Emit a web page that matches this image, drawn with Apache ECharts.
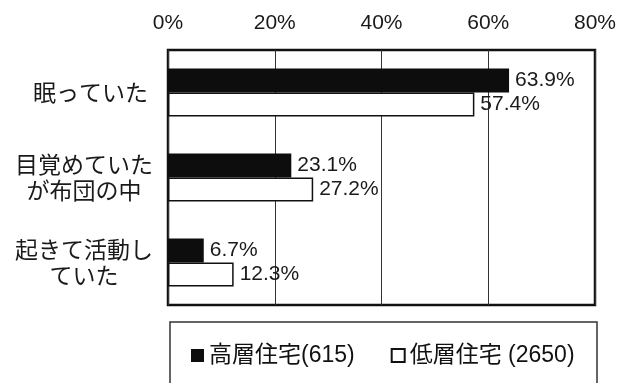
<!DOCTYPE html>
<html>
<head>
<meta charset="utf-8">
<script src="https://cdn.jsdelivr.net/npm/echarts@6/dist/echarts.min.js"></script>
<style>
  html, body { margin: 0; padding: 0; background: #fff; }
  #chart { width: 620px; height: 383px; }
</style>
</head>
<body>
<div id="chart"></div>
<script>
// Situation at the time of the event, by dwelling type (share of respondents, %)
const categories = ['眠っていた', '目覚めていた\nが布団の中', '起きて活動し\nていた'];
const highRise = [63.9, 23.1, 6.7];     // 高層住宅 (n=615)
const lowRise = [57.4, 27.2, 12.3];     // 低層住宅 (n=2650)
const seriesNames = ['高層住宅(615)', '低層住宅 (2650)'];
const xMin = 0, xMax = 80, xStep = 20;

const latin = '"Liberation Sans", Arial, "Noto Sans CJK JP", sans-serif';
const cjk = '"Noto Sans CJK JP", "Liberation Sans", sans-serif';

// two-line labels are centred line by line and sit further left
const yData = categories.map(function (c) {
  if (c.indexOf('\n') < 0) return c;
  return { value: c, textStyle: { align: 'center', padding: [0, 128, 0, 0] } };
});

const valueLabel = {
  show: true,
  position: 'right',
  distance: 6,
  formatter: '{c}%',
  fontFamily: latin,
  fontSize: 21,
  color: '#1a1a1a'
};

const chart = echarts.init(document.getElementById('chart'), null, { renderer: 'canvas' });
chart.setOption({
  backgroundColor: '#fff',
  animation: false,
  grid: {
    left: 168, right: 25, top: 50, bottom: 78,
    show: true, borderColor: '#111', borderWidth: 2.5, backgroundColor: 'transparent'
  },
  xAxis: {
    type: 'value',
    position: 'top',
    min: xMin, max: xMax, interval: xStep,
    axisLine: { show: false },
    axisTick: { show: false },
    axisLabel: {
      formatter: '{value}%',
      margin: 16,
      fontFamily: latin,
      fontSize: 21,
      color: '#1a1a1a'
    },
    splitLine: { show: true, lineStyle: { color: '#333', width: 1 } }
  },
  yAxis: {
    type: 'category',
    inverse: true,
    data: yData,
    axisLine: { show: false },
    axisTick: { show: false },
    axisLabel: {
      margin: 20,
      fontFamily: cjk,
      fontSize: 23,
      lineHeight: 26,
      color: '#1a1a1a'
    }
  },
  legend: {
    left: 186,
    top: 339,
    itemWidth: 13,
    itemHeight: 13,
    itemGap: 36,
    icon: 'rect',
    textStyle: { fontFamily: latin, fontSize: 23, color: '#111', padding: [0, 0, 0, 0] },
    data: seriesNames
  },
  graphic: [{
    type: 'rect',
    shape: { x: 170, y: 322, width: 427, height: 120 },
    style: { fill: 'none', stroke: '#333', lineWidth: 1.5 },
    silent: true
  }],
  series: [{
    name: seriesNames[0],
    type: 'bar',
    data: highRise,
    barWidth: 24,
    barGap: '0%',
    itemStyle: { color: '#0d0d0d' },
    label: valueLabel
  }, {
    name: seriesNames[1],
    type: 'bar',
    data: lowRise,
    barWidth: 24,
    barGap: '0%',
    itemStyle: { color: '#fff', borderColor: '#111', borderWidth: 1.5 },
    label: valueLabel
  }]
});
</script>
</body>
</html>
